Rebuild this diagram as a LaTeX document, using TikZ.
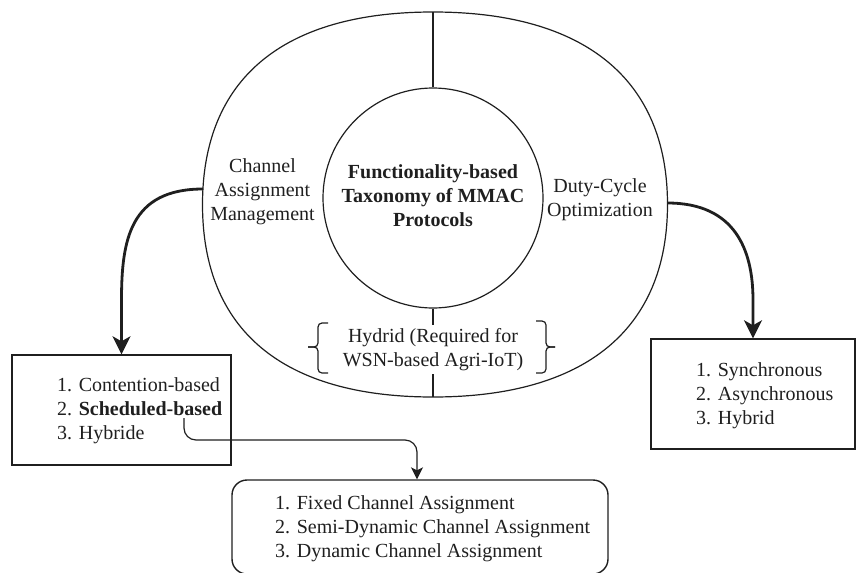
\documentclass[tikz,border=0pt]{standalone}
\usepackage{fontspec}
\setmainfont{Liberation Serif}
\usetikzlibrary{arrows.meta,calc}
\begin{document}
\begin{tikzpicture}[x=1pt,y=-1pt,
  line/.style={line width=1.2pt, draw=black!88},
  txt/.style={font=\fontsize{20}{24}\selectfont, inner sep=0pt, align=center, text=black!88},
  listtxt/.style={font=\fontsize{20}{24}\selectfont, inner sep=0pt, align=left, text=black!88},
  boxnode/.style={draw=black!88, line width=1.4pt, inner sep=0pt},
  bigarrow/.style={draw=black!88, line width=2.8pt, -{Stealth[length=18pt,width=18pt,inset=5pt]}},
  smallarrow/.style={draw=black!88, line width=1.2pt, rounded corners=12pt, -{Stealth[length=12pt,width=12pt,inset=3pt]}},
  bracestyle/.style={draw=black!88, line width=1.2pt, rounded corners=4pt}
]
\useasboundingbox (0,0) rectangle (860,573);

% outer rounded shape
\coordinate (otop) at (433,12);
\coordinate (oright) at (667.5,204.5);
\coordinate (obot) at (433,397);
\coordinate (oleft) at (202.5,204.5);
\draw[line] (otop) .. controls (585,12) and (667.5,79.5) .. (oright)
  .. controls (667.5,329.5) and (585,397) .. (obot)
  .. controls (282,397) and (202.5,329.5) .. (oleft)
  .. controls (202.5,79.5) and (282,12) .. cycle;

% inner circle with title
\node[circle, draw=black!88, line width=1.2pt, minimum size=220pt, inner sep=0pt,
  font=\fontsize{20}{24}\selectfont\bfseries, align=center, text=black!88]
  (core) at (433,198) {\strut Functionality-based\\\strut Taxonomy of MMAC\\\strut Protocols};

\draw[line] (otop) -- (core.north);
\draw[line] (core.south) -- (obot);

% hybrid label with braces
\node[txt, fill=white, font=\fontsize{20}{24.5}\selectfont] (hyb) at (433,349.6)
  {\strut Hydrid (Required for\\\strut WSN-based Agri-IoT)};
\draw[bracestyle] (328,323) -- (318,323) -- (318,347) -- (308,347);
\draw[bracestyle] (308,347) -- (318,347) -- (318,373) -- (328,373);
\draw[bracestyle] (536,321) -- (546,321) -- (546,347) -- (555,347);
\draw[bracestyle] (555,347) -- (546,347) -- (546,373) -- (536,373);

% side labels
\node[txt] (cam) at (262.5,191.7) {\strut Channel\\\strut Assignment\\\strut Management};
\node[txt] (dco) at (600,200) {\strut Duty-Cycle\\\strut Optimization};

% left box
\node[boxnode, minimum width=219pt, minimum height=110pt] (lbox) at (121.5,410) {};
\node[listtxt, anchor=west] (ltext) at (57,411) {\strut 1. Contention-based\\\strut 2. \textbf{Scheduled-based}\\\strut 3. Hybride};

% right box
\node[boxnode, minimum width=204pt, minimum height=110pt] (rbox) at (753,394) {};
\node[listtxt, anchor=west] (rtext) at (696,396) {\strut 1. Synchronous\\\strut 2. Asynchronous\\\strut 3. Hybrid};

% bottom box
\node[boxnode, rounded corners=15pt, minimum width=376pt, minimum height=94pt] (bbox) at (420,527) {};
\node[listtxt, anchor=west] (btext) at (275,529) {\strut 1. Fixed Channel Assignment\\\strut 2. Semi-Dynamic Channel Assignment\\\strut 3. Dynamic Channel Assignment};

% connectors
\coordinate (camstart) at (203,189);
\draw[bigarrow] (camstart) .. controls (130,189) and (121.5,240) .. (121.5,300) -- (lbox.north);
\coordinate (dcostart) at (667.5,203);
\draw[bigarrow] (dcostart) .. controls (735,203) and (753,250) .. (753,300) -- (rbox.north);

\coordinate (sb) at (184,418);
\coordinate (sbturn) at (417,440);
\draw[smallarrow] (sb) |- (sbturn) -- ([xshift=-3pt]bbox.north);
\end{tikzpicture}
\end{document}
